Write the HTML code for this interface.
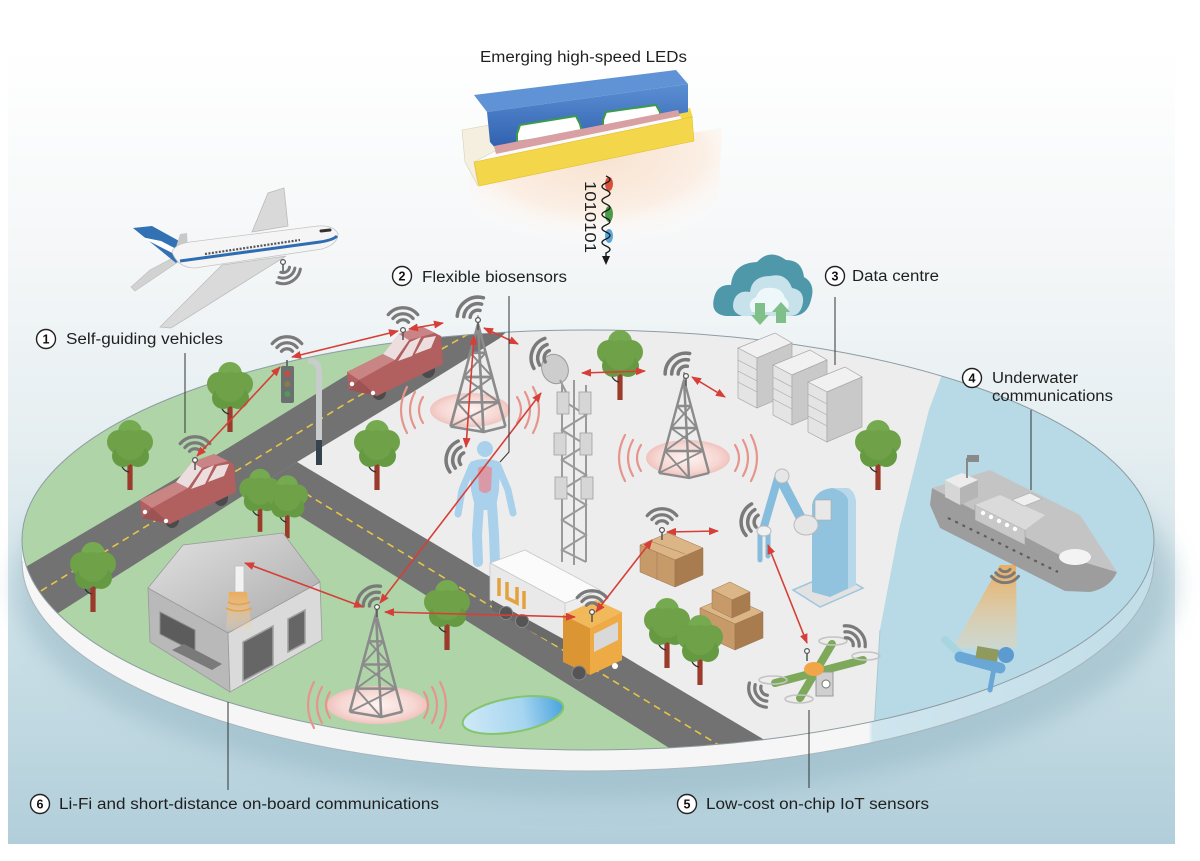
<!DOCTYPE html>
<html><head><meta charset="utf-8">
<style>
html,body{margin:0;padding:0;background:#fff;width:1200px;height:861px;overflow:hidden}
svg{display:block}
.t{font-family:"Liberation Sans",Arial,sans-serif;fill:#1f1f1f;font-size:15.5px}
.n{font-family:"Liberation Sans",Arial,sans-serif;font-weight:bold;font-size:12.5px;fill:#111;text-anchor:middle}
</style></head><body>
<svg width="1200" height="861" viewBox="0 0 1200 861" xmlns="http://www.w3.org/2000/svg">
<defs>
 <linearGradient id="bg" x1="0" y1="48" x2="0" y2="845" gradientUnits="userSpaceOnUse">
  <stop offset="0" stop-color="#ffffff"/>
  <stop offset="0.25" stop-color="#f5f7f8"/>
  <stop offset="0.5" stop-color="#e5eef1"/>
  <stop offset="0.75" stop-color="#cadfe6"/>
  <stop offset="1" stop-color="#b1ceda"/>
 </linearGradient>
 <linearGradient id="rim" x1="0" y1="0" x2="1200" y2="0" gradientUnits="userSpaceOnUse">
  <stop offset="0" stop-color="#f6f6f6"/>
  <stop offset="0.724" stop-color="#f6f6f6"/>
  <stop offset="0.727" stop-color="#cfe5ee"/>
  <stop offset="1" stop-color="#c0dce7"/>
 </linearGradient>
 <radialGradient id="halo"><stop offset="0" stop-color="#fdf3f1"/><stop offset="0.75" stop-color="#f6d6d2"/><stop offset="1" stop-color="#f0c3be"/></radialGradient>
 <radialGradient id="glow" cx="0.5" cy="0.2" r="0.7"><stop offset="0" stop-color="#f8e2cf"/><stop offset="0.6" stop-color="#fbeee3"/><stop offset="1" stop-color="#ffffff" stop-opacity="0"/></radialGradient>
 <linearGradient id="beam" x1="0" y1="0" x2="0" y2="1"><stop offset="0" stop-color="#f0a850" stop-opacity="0.9"/><stop offset="1" stop-color="#f3d2a2" stop-opacity="0.35"/></linearGradient>
 <linearGradient id="lamp" x1="0" y1="0" x2="0" y2="1"><stop offset="0" stop-color="#eeab55"/><stop offset="1" stop-color="#f5d6a8" stop-opacity="0.2"/></linearGradient>
 <linearGradient id="pond" x1="0" y1="0" x2="1" y2="0"><stop offset="0" stop-color="#cfe9f6"/><stop offset="0.6" stop-color="#a6d5f0"/><stop offset="1" stop-color="#4aa4de"/></linearGradient>
 <linearGradient id="roof" x1="0" y1="0" x2="1" y2="1"><stop offset="0" stop-color="#e2e2e2"/><stop offset="1" stop-color="#a9a9a9"/></linearGradient>
 <linearGradient id="led" x1="0" y1="0" x2="0" y2="1"><stop offset="0" stop-color="#5b8fd3"/><stop offset="1" stop-color="#2f5fae"/></linearGradient>
 <filter id="blur" x="-10%" y="-10%" width="120%" height="120%"><feGaussianBlur stdDeviation="12"/></filter>
 <clipPath id="disk"><ellipse cx="588" cy="540" rx="566" ry="210"/></clipPath>
 <marker id="ah" markerWidth="10" markerHeight="8" refX="9" refY="4" orient="auto-start-reverse" markerUnits="userSpaceOnUse"><path d="M0,0 L10,4 L0,8 Z" fill="#d63f37"/></marker>
 <g id="tree">
  <rect x="-2.6" y="-32" width="5.2" height="32" fill="#9a3b2b"/>
  <path d="M-1,-18 Q-7,-19 -9,-26" stroke="#2e2e2e" stroke-width="1.3" fill="none"/>
  <circle cx="0" cy="-58" r="12" fill="#76aa50"/>
  <circle cx="-11" cy="-48" r="12" fill="#6fa149"/>
  <circle cx="11" cy="-48" r="12" fill="#6fa149"/>
  <circle cx="-7" cy="-34" r="11" fill="#669a42"/>
  <circle cx="8" cy="-34" r="11" fill="#669a42"/>
  <circle cx="0" cy="-45" r="15" fill="#6fa149"/>
 </g>
 <g id="wf" fill="none" stroke="#7a7a7a" stroke-width="2.7" stroke-linecap="round">
  <path d="M-4.6,-3.9 A6,6 0 0 1 4.6,-3.9"/>
  <path d="M-8.4,-7.1 A11,11 0 0 1 8.4,-7.1"/>
  <path d="M-12.3,-10.3 A16,16 0 0 1 12.3,-10.3"/>
 </g>
 <g id="ant"><line x1="0" y1="0" x2="0" y2="10" stroke="#555" stroke-width="1.5"/><circle r="2.4" fill="#fff" stroke="#555" stroke-width="1.2"/></g>
 <g id="tw" fill="none" stroke="#8b8b8b" stroke-width="2.4" stroke-linejoin="round">
  <path d="M0,2 L-25,95 M0,2 L25,95 M0,2 L5,100"/>
  <path d="M-7,28 L7,28 M-13,50 L13,50 M-19,73 L19,73 M-25,95 L5,100 L25,95"/>
  <path d="M-7,28 L13,50 M7,28 L-13,50 M-13,50 L19,73 M13,50 L-19,73 M-19,73 L5,100 M19,73 L-25,95" stroke-width="1.8"/>
  <path d="M0,2 L0,-6" stroke-width="1.4"/>
 </g>
 <g id="rip" fill="none" stroke="#e6958d" stroke-width="2.2" stroke-linecap="round">
  <path d="M47,-13 Q55,0 47,13"/><path d="M55,-18 Q65,0 55,18"/><path d="M63,-23 Q75,0 63,23"/>
  <path d="M-47,-13 Q-55,0 -47,13"/><path d="M-55,-18 Q-65,0 -55,18"/><path d="M-63,-23 Q-75,0 -63,23"/>
 </g>
 <g id="car">
  <ellipse cx="-16" cy="30" rx="7" ry="8" fill="#4b4b4b"/>
  <ellipse cx="33" cy="8" rx="7" ry="8" fill="#4b4b4b"/>
  <path d="M-48,10 L-12,-8 L4,-28 L26,-36 L46,-26 L48,2 L-18,34 L-46,28 Z" fill="#b25f60"/>
  <path d="M-48,10 L-12,-8 L0,-2 L-36,18 Z" fill="#c98484"/>
  <path d="M-12,-8 L4,-28 L14,-22 L0,-2 Z" fill="#ecdede"/>
  <path d="M4,-28 L26,-36 L40,-29 L14,-22 Z" fill="#c98585"/>
  <path d="M3,-1 L15,-20 L26,-25 L17,-6 Z" fill="#ecdede"/>
  <path d="M20,-8 L29,-24 L41,-26 L36,-14 Z" fill="#ecdede"/>
  <path d="M-46,28 L-36,18 L-18,34 Z" fill="#9d5253"/>
  <circle cx="-43" cy="22" r="2.2" fill="#fff"/>
  <circle cx="-22" cy="31" r="2.2" fill="#fff"/>
 </g>
</defs>

<!-- background -->
<rect x="0" y="0" width="1200" height="861" fill="#fff"/>
<rect x="8" y="48" width="1167" height="796" fill="url(#bg)"/>

<!-- LED glow + LED -->
<path d="M470,170 L722,128 L718,205 Q660,258 600,260 Q515,255 470,210 Z" fill="url(#glow)"/>
<text class="t" x="480" y="62" textLength="207" lengthAdjust="spacingAndGlyphs" font-size="16">Emerging high-speed LEDs</text>
<path d="M462,130 L495,124 L497,150 L474,162 L478,186 L465,162 Z" fill="#f4efdf" stroke="#d9d2b8" stroke-width="0.6"/>
<path d="M660,114 L690,108 L693,118 L665,124 Z" fill="#f3d64a"/>
<path d="M474,95 L676,70 L688,84 L487,112 Z" fill="#5f93d6"/>
<path d="M487,112 L688,84 L688,112 L497,150 L490,142 Z" fill="url(#led)"/>
<path d="M517,134 L520,125 L576,116 L580,124 L582,132 L517,142 Z" fill="#ffffff" stroke="#3b9a4c" stroke-width="2"/>
<path d="M603,120 L606,112 L656,105 L660,112 L660,117 L603,126 Z" fill="#ffffff" stroke="#3b9a4c" stroke-width="2"/>
<path d="M494,146 L678,110 L680,116 L496,154 Z" fill="#d8a0a2"/>
<path d="M496,154 L680,116 L682,120 L498,158 Z" fill="#fafafa"/>
<path d="M474,162 L692,117 L694,141 L479,186 Z" fill="#f4d64a" stroke="#e3bf2e" stroke-width="0.6"/>
<ellipse cx="609" cy="184" rx="4" ry="7" fill="#d9503a"/>
<ellipse cx="609" cy="214" rx="4" ry="8" fill="#4a9a4a"/>
<ellipse cx="609" cy="236" rx="4" ry="7" fill="#5aa7d8"/>
<path d="M606,176 Q614,179.5 606,183 T606,190 T606,197 T606,204 T606,211 T606,218 T606,225 T606,232 T606,239 T606,246 T606,253 L606,258" fill="none" stroke="#1a1a1a" stroke-width="1.4"/>
<path d="M602,256 L610,256 L606,265 Z" fill="#1a1a1a"/>
<text class="t" font-size="13.5" transform="translate(585,181) rotate(90)" textLength="72" lengthAdjust="spacingAndGlyphs">1010101</text>

<!-- plane -->
<g>
 <path d="M190,258 L178,262 L135,291 L131,287 L150,270 L184,252 Z" fill="#d2d2d2" stroke="#bcbcbc" stroke-width="0.6"/>
 <path d="M133,228 L152,226 L190,247 L176,263 Z" fill="#3371b5"/>
 <path d="M141,237 L161,241 L184,253 L180,257 Z" fill="#ffffff"/>
 <path d="M252,232 L268,193 L284,188 L288,226 Z" fill="#d9d9d9" stroke="#bbb" stroke-width="0.8"/>
 <path d="M176,247 L180,234 L187,233 L188,250 Z" fill="#c9c9c9"/>
 <path d="M172,252 Q175,244 190,242 L318,226 Q334,225 338,234 Q338,244 322,249 L195,268 Q178,268 172,252 Z" fill="#f5f5f5" stroke="#c4c4c4" stroke-width="0.8"/>
 <path d="M180,261 L320,242 Q333,240 337,236" stroke="#2f6db3" stroke-width="3" fill="none"/>
 <path d="M205,254 L300,240" stroke="#555" stroke-width="2.2" stroke-dasharray="2 1.5"/>
 <path d="M321,231 L330,230" stroke="#333" stroke-width="3" stroke-linecap="round"/>
 <path d="M222,265 L286,256 L171,328 L160,327 Z" fill="#dadada" stroke="#bdbdbd" stroke-width="0.8"/>
 <use href="#ant" transform="translate(283,262)"/>
 <use href="#wf" transform="translate(283,266) rotate(150) scale(1.1)"/>
</g>

<!-- disk -->
<ellipse cx="595" cy="585" rx="580" ry="215" fill="#8fb3c1" opacity="0.5" filter="url(#blur)"/>
<ellipse cx="588" cy="561" rx="566" ry="210" fill="url(#rim)" stroke="#a9b6bb" stroke-width="1"/>
<rect x="22" y="540" width="1132" height="21" fill="url(#rim)"/>
<ellipse cx="588" cy="540" rx="566" ry="210" fill="#aed4a8"/>
<g clip-path="url(#disk)">
 <polygon points="297,462 500,338 505,290 960,290 945,367 929,410 899,530 880,630 874,730 872,800 790,800 776,747" fill="#ededed"/>
 <polygon points="960,290 1200,290 1200,800 872,800 874,730 880,630 899,530 929,410 945,367" fill="#b8dae7"/>
 <path d="M880,630 L874,730 L872,800" stroke="#a9c9d4" stroke-width="1" fill="none"/>
 <polygon points="0,582 228,448 350,373 440,325 520,280 560,280 500,338 400,400 297,462 255,488 0,650" fill="#727272"/>
 <polygon points="297,462 810,767 810,800 690,800 690,761 255,488" fill="#727272"/>
 <polyline points="0,616 228,476 350,401 440,350 520,305" fill="none" stroke="#e6c547" stroke-width="1.6" stroke-dasharray="7 5"/>
 <line x1="285" y1="481" x2="750" y2="764" stroke="#e6c547" stroke-width="1.6" stroke-dasharray="7 5"/>
 <ellipse cx="513" cy="715" rx="51" ry="17" transform="rotate(-10 513 715)" fill="url(#pond)" stroke="#86c56f" stroke-width="2"/>
</g>
<ellipse cx="588" cy="540" rx="566" ry="210" fill="none" stroke="#8d9ca1" stroke-width="1"/>

<!-- halos -->
<ellipse cx="470" cy="410" rx="40" ry="17" fill="url(#halo)"/>
<use href="#rip" transform="translate(470,410)"/>
<ellipse cx="688" cy="458" rx="42" ry="18" fill="url(#halo)"/>
<use href="#rip" transform="translate(688,458)"/>
<ellipse cx="377" cy="705" rx="50" ry="19" fill="url(#halo)"/>
<use href="#rip" transform="translate(377,705)"/>

<!-- cloud -->
<g>
 <path d="M726,316 Q710,314 714,298 Q717,284 731,285 Q733,263 757,262 Q770,248 786,260 Q802,260 804,277 Q816,284 811,300 Q807,316 792,316 Z" fill="#4f98aa"/>
 <path d="M742,316 Q730,312 734,300 Q738,290 750,292 Q752,276 770,276 Q786,272 792,288 Q804,290 803,302 Q801,316 790,316 Z" fill="#c7e2ea"/>
 <path d="M752,312 Q746,302 756,297 Q760,286 772,288 Q782,288 785,298 Q792,304 786,312 Z" fill="#eef7f9"/>
 <path d="M755,303 L765,303 L765,315 L769,315 L760,325 L751,315 L755,315 Z" fill="#7fbf8a"/>
 <path d="M776,323 L786,323 L786,312 L790,312 L781,302 L772,312 L776,312 Z" fill="#7fbf8a"/>
</g>

<!-- servers -->
<g stroke="#a8a8a8" stroke-width="0.7">
 <g>
  <polygon points="738,348 775,333 792,343 757,358" fill="#f1f1f1"/>
  <polygon points="738,348 757,358 757,408 738,398" fill="#e4e4e4"/>
  <polygon points="757,358 792,343 792,393 757,408" fill="#c9c9c9"/>
  <path d="M738,360 L757,370 M738,371 L757,381 M738,382 L757,392" fill="none"/>
 </g>
 <g transform="translate(35,17)">
  <polygon points="738,348 775,333 792,343 757,358" fill="#f1f1f1"/>
  <polygon points="738,348 757,358 757,408 738,398" fill="#e4e4e4"/>
  <polygon points="757,358 792,343 792,393 757,408" fill="#c9c9c9"/>
  <path d="M738,360 L757,370 M738,371 L757,381 M738,382 L757,392" fill="none"/>
 </g>
 <g transform="translate(70,34)">
  <polygon points="738,348 775,333 792,343 757,358" fill="#f1f1f1"/>
  <polygon points="738,348 757,358 757,408 738,398" fill="#e4e4e4"/>
  <polygon points="757,358 792,343 792,393 757,408" fill="#c9c9c9"/>
  <path d="M738,360 L757,370 M738,371 L757,381 M738,382 L757,392" fill="none"/>
 </g>
</g>

<!-- trees (back) -->
<use href="#tree" x="230" y="432"/>
<use href="#tree" x="620" y="400"/>
<use href="#tree" x="130" y="490"/>
<use href="#tree" x="377" y="490"/>
<use href="#tree" x="878" y="490"/>

<!-- towers -->
<use href="#tw" transform="translate(478,322) scale(1.1)"/>
<use href="#tw" transform="translate(684,378)"/>

<!-- traffic light + streetlight -->
<line x1="287" y1="360" x2="287" y2="366" stroke="#555" stroke-width="1.5"/>
<rect x="281" y="366" width="13" height="37" rx="2" fill="#6b6f70"/>
<circle cx="287.5" cy="374" r="3" fill="#c94b3f"/>
<circle cx="287.5" cy="384" r="3" fill="#8b7a4a"/>
<circle cx="287.5" cy="394" r="3" fill="#4f9a57"/>
<path d="M319,465 L319,372 Q319,360 308,361" stroke="#c9cccd" stroke-width="6" fill="none"/>
<line x1="319" y1="440" x2="319" y2="465" stroke="#34434c" stroke-width="6"/>

<!-- cars -->
<use href="#car" transform="translate(395,362)"/>
<use href="#car" transform="translate(188,490)"/>
<use href="#ant" transform="translate(403,330)"/>
<use href="#ant" transform="translate(195,460)"/>

<!-- cell mast + dish -->
<g stroke="#9a9a9a" fill="none" stroke-width="2">
 <path d="M562,385 L562,562 M586,385 L586,562 M574,380 L574,565"/>
 <path d="M562,400 L586,415 L562,430 L586,445 L562,460 L586,475 L562,490 L586,505 L562,520 L586,535 L562,550 L586,562"/>
</g>
<g fill="#d6d6d6" stroke="#a0a0a0" stroke-width="0.8">
 <rect x="557" y="392" width="12" height="22"/><rect x="579" y="392" width="12" height="22"/>
 <rect x="554" y="433" width="12" height="22"/><rect x="580" y="433" width="12" height="22"/>
 <rect x="555" y="477" width="12" height="22"/><rect x="581" y="477" width="12" height="22"/>
</g>
<ellipse cx="555" cy="369" rx="13" ry="15" transform="rotate(-25 555 369)" fill="#cdcdcd" stroke="#9b9b9b"/>
<line x1="560" y1="380" x2="566" y2="392" stroke="#999" stroke-width="2"/>

<!-- person -->
<g>
 <g stroke="#a9d1ec" stroke-linecap="round" fill="none">
  <path d="M472,466 L462,490 L458,514" stroke-width="7"/>
  <path d="M498,466 L508,490 L513,513" stroke-width="7"/>
  <path d="M479,505 L477,535 L478,562" stroke-width="10"/>
  <path d="M492,505 L494,535 L495,562" stroke-width="10"/>
 </g>
 <path d="M470,462 Q485,456 500,462 L499,490 Q497,503 495,510 L476,510 Q473,500 471,490 Z" fill="#a9d1ec"/>
 <circle cx="485" cy="449" r="8" fill="#a9d1ec"/>
 <path d="M478,468 Q485,464 492,468 L491,490 Q485,496 479,490 Z" fill="#e28f9a" opacity="0.85"/>
</g>

<!-- robot -->
<g>
 <polygon points="793,590 835,572 863,588 820,607" fill="#e2e2e2" stroke="#9fc6de" stroke-width="1.5"/>
 <path d="M812,592 L812,505 Q815,490 832,488 L848,488 Q856,492 856,505 L856,585 L830,597 Z" fill="#91c2de"/>
 <path d="M832,488 L848,488 Q856,492 856,505 L856,585 L848,589 L848,500 Q846,492 832,488 Z" fill="#b7d8ea"/>
 <rect x="815" y="500" width="16" height="20" fill="#e8e8e8" stroke="#aaa" stroke-width="0.6"/>
 <path d="M803,522 L780,478" stroke="#86bcdc" stroke-width="10" stroke-linecap="round"/>
 <path d="M778,478 L763,530" stroke="#86bcdc" stroke-width="8" stroke-linecap="round"/>
 <circle cx="782" cy="476" r="7" fill="#e6e6e6" stroke="#bbb"/>
 <ellipse cx="806" cy="525" rx="12" ry="10" fill="#e6e6e6" stroke="#bbb"/>
 <path d="M760,532 L760,560 M768,532 L768,556" stroke="#86bcdc" stroke-width="5" stroke-linecap="round"/>
 <ellipse cx="764" cy="531" rx="7" ry="5" fill="#f0f0f0" stroke="#bbb"/>
</g>

<!-- boxes -->
<g stroke="#9a7550" stroke-width="0.5">
 <polygon points="640,545 668,533 703,548 675,560" fill="#dcb586"/>
 <polygon points="640,545 675,560 675,587 640,572" fill="#c79a6a"/>
 <polygon points="675,560 703,548 703,575 675,587" fill="#a97c4f"/>
 <path d="M657,553 L657,580 M650,541 L685,554" fill="none"/>
 <polygon points="700,608 728,596 763,612 735,624" fill="#dcb586"/>
 <polygon points="700,608 735,624 735,650 700,634" fill="#c79a6a"/>
 <polygon points="735,624 763,612 763,638 735,650" fill="#a97c4f"/>
 <polygon points="712,590 730,582 750,592 732,600" fill="#dcb586"/>
 <polygon points="712,590 732,600 732,618 712,608" fill="#c79a6a"/>
 <polygon points="732,600 750,592 750,610 732,618" fill="#a97c4f"/>
</g>

<!-- trees (front) -->
<use href="#tree" x="260" y="532" transform="translate(26,53) scale(0.9)" />
<use href="#tree" x="287" y="538" transform="translate(29,54) scale(0.9)"/>
<use href="#tree" x="93" y="612"/>
<use href="#tree" x="447" y="650"/>
<use href="#tree" x="667" y="668"/>
<use href="#tree" x="700" y="685"/>

<!-- house -->
<g>
 <polygon points="148,588 228,633 230,692 150,642" fill="#b9b9b9" stroke="#9a9a9a" stroke-width="0.8"/>
 <polygon points="160,612 195,630 195,652 160,634" fill="#5c5c5c" stroke="#8a8a8a"/>
 <polygon points="172,650 212,670 222,664 184,644" fill="#7a7a7a"/>
 <polygon points="228,633 320,582 322,640 230,692" fill="#dadada" stroke="#9a9a9a" stroke-width="0.8"/>
 <polygon points="243,642 273,626 273,665 243,681" fill="#666" stroke="#a0a0a0" stroke-width="1.5"/>
 <polygon points="288,619 305,610 305,643 288,652" fill="#666" stroke="#a0a0a0" stroke-width="1.5"/>
 <polygon points="148,588 183,545 283,533 320,582 228,633" fill="url(#roof)" stroke="#9a9a9a" stroke-width="0.8"/>
 <polygon points="229,592 247,592 252,630 226,630" fill="url(#lamp)"/>
 <rect x="235" y="566" width="9" height="26" fill="#f2f2f2" stroke="#bbb" stroke-width="0.7"/>
 <path d="M228,602 Q238,607 250,602 M226,608 Q238,614 252,608" stroke="#e7a24e" stroke-width="1.6" fill="none"/>
</g>

<!-- bottom tower -->
<use href="#tw" transform="translate(376,612) scale(1.05)"/>

<!-- truck -->
<g>
 <polygon points="490,563 525,550 600,590 565,603" fill="#fbfbfb" stroke="#c8c8c8" stroke-width="0.8"/>
 <polygon points="490,563 565,603 565,640 490,600" fill="#e9e9e9" stroke="#c8c8c8" stroke-width="0.8"/>
 <path d="M499,578 L499,596 M507,582 L507,598 L517,603 L517,587 M524,591 L524,609" stroke="#e4a23e" stroke-width="3.5" fill="none"/>
 <polygon points="492,600 565,640 565,650 492,610" fill="#6a6a6a"/>
 <circle cx="506" cy="613" r="6.5" fill="#555" stroke="#888"/>
 <circle cx="522" cy="621" r="6.5" fill="#555" stroke="#888"/>
 <polygon points="563,615 596,600 622,612 590,628" fill="#f2b95a"/>
 <polygon points="563,615 590,628 590,675 563,662" fill="#dc9533"/>
 <polygon points="590,628 622,612 622,660 590,675" fill="#eeaa45"/>
 <polygon points="594,634 618,622 618,640 594,652" fill="#d9d9d9"/>
 <circle cx="579" cy="673" r="7" fill="#555" stroke="#888"/>
 <circle cx="615" cy="666" r="3" fill="#fff"/>
</g>
<use href="#ant" transform="translate(592,612)"/>

<!-- drone -->
<g>
 <path d="M775,683 L863,660" stroke="#7ea85a" stroke-width="8" stroke-linecap="round"/>
 <path d="M800,698 L832,644" stroke="#7ea85a" stroke-width="8" stroke-linecap="round"/>
 <rect x="816" y="672" width="17" height="24" fill="#cfcfcf" stroke="#999"/>
 <circle cx="826" cy="684" r="4" fill="#fff" stroke="#777"/>
 <ellipse cx="814" cy="669" rx="10" ry="7" fill="#f0a548"/>
 <g fill="none" stroke="#c4c4c4" stroke-width="1.6">
  <ellipse cx="773" cy="680" rx="14" ry="4"/><ellipse cx="866" cy="656" rx="14" ry="4"/>
  <ellipse cx="799" cy="699" rx="14" ry="4"/><ellipse cx="833" cy="641" rx="14" ry="4"/>
 </g>
 <use href="#ant" transform="translate(807,651)"/>
</g>

<!-- ship, beam, diver -->
<polygon points="1000,565 1016,565 1017,648 953,648" fill="url(#beam)"/>
<g>
 <path d="M932,488 L1060,555 L1117,572 Q1110,588 1090,592 L1065,591 L940,528 L930,505 Z" fill="#9d9d9d"/>
 <polygon points="932,488 990,470 1080,515 1117,572 1060,555" fill="#c4c4c4"/>
 <path d="M948,518 L1058,572" stroke="#5e5e5e" stroke-width="2.2" stroke-dasharray="3 5"/>
 <polygon points="945,480 960,488 960,505 945,497" fill="#d6d6d6"/>
 <polygon points="945,480 962,473 978,480 960,488" fill="#ececec"/>
 <polygon points="960,488 978,480 978,497 960,505" fill="#b5b5b5"/>
 <polygon points="975,505 1025,530 1025,545 975,520" fill="#c8c8c8" stroke="#a0a0a0" stroke-width="0.6"/>
 <polygon points="975,505 1000,495 1045,515 1025,530" fill="#dadada"/>
 <g fill="#fff"><circle cx="983" cy="513" r="2.2"/><circle cx="991" cy="517" r="2.2"/><circle cx="999" cy="521" r="2.2"/><circle cx="1007" cy="525" r="2.2"/><circle cx="1015" cy="529" r="2.2"/></g>
 <polygon points="1012,500 1030,493 1042,499 1024,506" fill="#efefef" stroke="#aaa" stroke-width="0.6"/>
 <ellipse cx="1075" cy="557" rx="16" ry="8" fill="#f3f3f3"/>
 <line x1="967" y1="458" x2="967" y2="478" stroke="#888" stroke-width="2"/>
 <rect x="967" y="455" width="12" height="7" fill="#8a8a8a"/>
</g>
<use href="#wf" transform="translate(1005,565) rotate(180) scale(1.1)"/>
<g>
 <path d="M945,640 L962,656" stroke="#a7d6e0" stroke-width="8" stroke-linecap="round"/>
 <path d="M960,657 L1000,668" stroke="#6aa6d6" stroke-width="11" stroke-linecap="round"/>
 <path d="M994,668 L990,690" stroke="#6aa6d6" stroke-width="5" stroke-linecap="round"/>
 <rect x="976" y="648" width="22" height="12" fill="#8f9a5c" transform="rotate(10 988 655)"/>
 <circle cx="1006" cy="655" r="8" fill="#5b9bd0"/>
</g>

<!-- wifi symbols -->
<use href="#wf" transform="translate(287,356) scale(1.2)"/>
<use href="#wf" transform="translate(403,327) scale(1.2)"/>
<use href="#wf" transform="translate(478,318) rotate(-35) scale(1.3)"/>
<use href="#wf" transform="translate(552,358) rotate(-70) scale(1.3)"/>
<use href="#wf" transform="translate(686,374) rotate(-40) scale(1.3)"/>
<use href="#wf" transform="translate(195,456) scale(1.2)"/>
<use href="#wf" transform="translate(467,460) rotate(-75) scale(1.3)"/>
<use href="#wf" transform="translate(377,606) rotate(-40) scale(1.25)"/>
<use href="#wf" transform="translate(592,610) scale(1.2)"/>
<use href="#wf" transform="translate(662,528) scale(1.2)"/>
<use href="#wf" transform="translate(762,522) rotate(-80) scale(1.3)"/>
<use href="#wf" transform="translate(846,645) rotate(45) scale(1.2)"/>
<use href="#wf" transform="translate(768,688) rotate(-125) scale(1.2)"/>
<use href="#ant" transform="translate(478,320)"/>
<use href="#ant" transform="translate(686,376)"/>
<use href="#ant" transform="translate(377,607)"/>
<use href="#ant" transform="translate(662,530)"/>

<!-- red arrows -->
<g stroke="#d63f37" stroke-width="1.6" fill="none" marker-start="url(#ah)" marker-end="url(#ah)">
 <line x1="292" y1="357" x2="398" y2="331"/>
 <line x1="409" y1="329" x2="443" y2="323"/>
 <line x1="484" y1="328" x2="518" y2="344"/>
 <line x1="474" y1="336" x2="466" y2="447"/>
 <line x1="197" y1="456" x2="280" y2="367"/>
 <line x1="541" y1="393" x2="380" y2="603"/>
 <line x1="582" y1="373" x2="645" y2="371"/>
 <line x1="692" y1="377" x2="725" y2="397"/>
 <line x1="245" y1="563" x2="363" y2="607"/>
 <line x1="385" y1="612" x2="575" y2="617"/>
 <line x1="596" y1="612" x2="652" y2="540"/>
 <line x1="667" y1="532" x2="718" y2="531"/>
 <line x1="768" y1="545" x2="807" y2="643"/>
</g>

<!-- leader lines -->
<g stroke="#333" stroke-width="1" fill="none">
 <line x1="185" y1="353" x2="185" y2="433"/>
 <polyline points="509,296 509,452 500,462"/>
 <line x1="835" y1="297" x2="835" y2="365"/>
 <line x1="1031" y1="410" x2="1031" y2="490"/>
 <line x1="809" y1="710" x2="809" y2="788"/>
 <line x1="228" y1="702" x2="228" y2="790"/>
</g>

<!-- labels -->
<g fill="#fff" stroke="#222" stroke-width="1.4">
 <circle cx="46" cy="339" r="9.5"/>
 <circle cx="402" cy="276" r="9.5"/>
 <circle cx="835" cy="276" r="9.5"/>
 <circle cx="972" cy="378" r="9.5"/>
 <circle cx="687" cy="804" r="9.5"/>
 <circle cx="40" cy="804" r="9.5"/>
</g>
<text class="n" x="46" y="343.5">1</text>
<text class="n" x="402" y="280.5">2</text>
<text class="n" x="835" y="280.5">3</text>
<text class="n" x="972" y="382.5">4</text>
<text class="n" x="687" y="808.5">5</text>
<text class="n" x="40" y="808.5">6</text>
<text class="t" x="66" y="344" textLength="157" lengthAdjust="spacingAndGlyphs">Self-guiding vehicles</text>
<text class="t" x="422" y="282" textLength="145" lengthAdjust="spacingAndGlyphs">Flexible biosensors</text>
<text class="t" x="852" y="281" textLength="87" lengthAdjust="spacingAndGlyphs">Data centre</text>
<text class="t" x="992" y="383" textLength="86" lengthAdjust="spacingAndGlyphs">Underwater</text>
<text class="t" x="992" y="401" textLength="121" lengthAdjust="spacingAndGlyphs">communications</text>
<text class="t" x="706" y="809" textLength="223" lengthAdjust="spacingAndGlyphs">Low-cost on-chip IoT sensors</text>
<text class="t" x="59" y="809" textLength="380" lengthAdjust="spacingAndGlyphs">Li-Fi and short-distance on-board communications</text>
</svg>
</body></html>
